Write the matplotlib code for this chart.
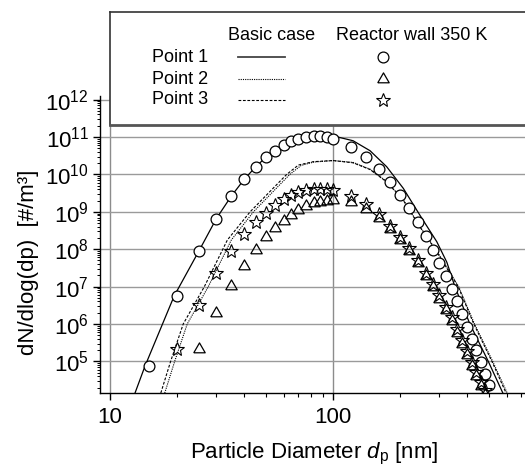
import numpy as np
import matplotlib
matplotlib.use("Agg")
import matplotlib.pyplot as plt
from matplotlib.ticker import LogLocator, NullFormatter, FixedLocator

plt.rcParams['font.family'] = ['Liberation Sans', 'DejaVu Sans']
plt.rcParams['mathtext.fontset'] = 'custom'
plt.rcParams['mathtext.rm'] = 'Liberation Sans'
plt.rcParams['mathtext.it'] = 'Liberation Sans:italic'
plt.rcParams['mathtext.default'] = 'regular'

# ---------------- data ----------------
# measured (Reactor wall 350 K)
dp_meas = [15, 20, 25, 30, 35, 40, 45, 50, 55, 60, 65, 70, 76, 82, 87, 94, 100,
           120, 140, 160, 180, 200, 220, 240, 260, 280, 300, 320, 340, 360, 380,
           400, 420, 440, 460, 480, 500]
p1_meas = [7.5e4, 5.6e6, 9.2e7, 6.5e8, 2.6e9, 7.4e9, 1.6e10, 2.9e10, 4.3e10, 6.1e10,
           7.7e10, 8.8e10, 1.02e11, 1.06e11, 1.06e11, 1.02e11, 9.0e10,
           5.5e10, 2.9e10, 1.37e10, 6.4e9, 2.8e9, 1.24e9, 5.4e8, 2.25e8, 9.5e7,
           4.4e7, 1.95e7, 8.6e6, 4.0e6, 1.85e6, 8.5e5, 4.0e5, 2.0e5, 9.6e4, 4.7e4, 2.4e4]

dp_meas3 = dp_meas[1:-1]
p3_meas = [2.1e5, 3.2e6, 2.27e7, 8.8e7, 2.5e8, 5.2e8, 9.5e8, 1.52e9, 2.16e9, 2.8e9,
           3.4e9, 3.8e9, 4.07e9, 4.07e9, 4.07e9, 3.8e9,
           2.6e9, 1.6e9, 8.6e8, 4.2e8, 2.1e8, 1.06e8, 5.1e7, 2.35e7, 1.17e7,
           6.0e6, 2.9e6, 1.5e6, 7.3e5, 3.7e5, 1.84e5, 9.6e4, 5.2e4, 2.8e4, 1.7e4]

dp_meas2 = dp_meas[2:-1]
p2_meas = [2.1e5, 1.97e6, 1.02e7, 3.6e7, 9.5e7, 2.1e8, 3.6e8, 5.8e8, 8.1e8, 1.15e9,
           1.43e9, 1.69e9, 1.83e9, 1.94e9, 2.07e9,
           1.83e9, 1.17e9, 6.8e8, 3.5e8, 1.76e8, 9.0e7, 4.3e7, 1.9e7, 9.8e6,
           4.8e6, 2.37e6, 1.17e6, 5.7e5, 2.9e5, 1.44e5, 7.5e4, 4.1e4, 2.2e4, 1.3e4]

# basic case (lines)
dp_b1 = [12.95, 14.36, 19.4, 25.3, 30, 35, 40, 45, 50, 60, 70, 80, 90, 100,
         123, 146.5, 174, 206.6, 245, 292, 324, 352, 411, 497, 578]
logN_b1 = [4.155, 4.877, 6.749, 8.0, 8.82, 9.42, 9.87, 10.2, 10.46, 10.79, 10.95,
           11.03, 11.05, 11.03, 10.9, 10.634, 10.206, 9.628, 8.914, 8.2, 7.65,
           7.0, 6.0, 5.0, 4.15]

dp_b3 = [16.9, 18.7, 21.3, 26.5, 33.6, 42.5, 62, 70, 81.6, 100,
         123, 146.5, 174, 206.6, 245, 292, 364, 428, 516, 597]
logN_b3 = [4.155, 5.0, 6.0, 7.0, 8.246, 9.0, 10.0, 10.25, 10.34, 10.37,
           10.31, 10.13, 9.80, 9.31, 8.60, 7.93, 7.0, 6.0, 5.0, 4.155]

dp_b2 = [17.6, 19.5, 22.2, 27.6, 35.0, 44, 64, 72, 82, 100,
         123, 146.5, 174, 206.6, 245, 292, 366, 431, 520, 604]
logN_b2 = [4.155, 5.0, 6.0, 7.0, 8.246, 9.0, 10.0, 10.24, 10.33, 10.37,
           10.32, 10.14, 9.81, 9.32, 8.61, 7.95, 7.0, 6.0, 5.0, 4.155]

xlabel = "Particle Diameter $\\mathit{d}_{p}$ [nm]"
ylabel = "dN/dlog(dp)  [#/m\u00b3]"
legend_rows = ["Point 1", "Point 2", "Point 3"]
legend_cols = ["Basic case", "Reactor wall 350 K"]

# ---------------- figure ----------------
W, H = 525, 467
fig = plt.figure(figsize=(W / 100, H / 100), dpi=100)

def fx(px):
    return px / W

def fy(py):
    return 1 - py / H

ax = fig.add_axes([fx(100), fy(393), fx(525) - fx(100), fy(96) - fy(393)])
ax.set_xscale('log')
ax.set_yscale('log')
ax.set_xlim(9.02, 726)
ax.set_ylim(10 ** 4.155, 10 ** 12.096)

# grid
for v in [10, 100]:
    ax.axvline(v, color='#8c8c8c', lw=1.0, zorder=0)
for e in range(5, 13):
    ax.axhline(10.0 ** e, color='#9a9a9a', lw=1.0, zorder=0)

lw = 0.9
ax.plot(dp_b1, 10 ** np.array(logN_b1), color='black', lw=lw, ls='-', zorder=2)
ax.plot(dp_b2, 10 ** np.array(logN_b2), color='black', lw=0.8, ls=(0, (1, 1)), zorder=2)
ax.plot(dp_b3, 10 ** np.array(logN_b3), color='black', lw=0.8, ls=(0, (2.5, 1.5)), zorder=2)

tri = [(-1, -0.577), (1, -0.577), (0, 1.155), (-1, -0.577)]
ax.plot(dp_meas, p1_meas, ls='none', marker='o', ms=7.8, mfc='white', mec='black',
        mew=0.9, zorder=3)
ax.plot(dp_meas2, p2_meas, ls='none', marker=tri, ms=9.5, mfc='none', mec='black',
        mew=0.9, zorder=4)
ax.plot(dp_meas3, p3_meas, ls='none', marker='*', ms=10, mfc='none', mec='black',
        mew=0.8, zorder=5)

# ticks
ax.yaxis.set_major_locator(LogLocator(base=10, numticks=20))
ax.yaxis.set_minor_locator(LogLocator(base=10, subs=np.arange(2, 10), numticks=20))
ax.yaxis.set_minor_formatter(NullFormatter())
ax.xaxis.set_major_locator(FixedLocator([10, 100]))
ax.xaxis.set_minor_locator(FixedLocator([20, 30, 40, 50, 60, 70, 80, 90,
                                         200, 300, 400, 500, 600, 700]))
ax.xaxis.set_minor_formatter(NullFormatter())
ax.xaxis.set_major_formatter(matplotlib.ticker.FuncFormatter(lambda v, p: f"{int(round(v))}"))
ax.tick_params(axis='both', which='major', labelsize=16, length=5, width=1,
               direction='out', pad=3, color='black')
ax.tick_params(axis='y', which='minor', length=2.5, width=0.7, direction='out')
ax.tick_params(axis='x', which='minor', length=3, width=0.8, direction='out')
ax.tick_params(axis='x', which='major', pad=5)
for s in ['top', 'right']:
    ax.spines[s].set_visible(False)
for s in ['left', 'bottom']:
    ax.spines[s].set_linewidth(1.0)
    ax.spines[s].set_color('black')

fig.text(fx(314), fy(458), xlabel, fontsize=16, ha='center', va='baseline')
fig.text(fx(29), fy(262), ylabel, fontsize=16, ha='center', va='center', rotation=90)

# legend box
lax = fig.add_axes([fx(110), fy(125), fx(540) - fx(110), fy(12) - fy(125)], zorder=10)
lax.set_xlim(110, 540)
lax.set_ylim(125, 12)
lax.set_xticks([])
lax.set_yticks([])
lax.set_facecolor('white')
for s in ['top', 'left', 'right']:
    lax.spines[s].set_color('#333333')
    lax.spines[s].set_linewidth(1.2)
lax.spines['bottom'].set_color('#555555')
lax.spines['bottom'].set_linewidth(2.0)

fs = 13
lax.text(272, 35, legend_cols[0], fontsize=fs, ha='center', va='center')
lax.text(412, 35, legend_cols[1], fontsize=fs, ha='center', va='center')
row_y = [57, 79, 100]
styles = [dict(ls='-', lw=1.3, color='#444444'), dict(ls=(0, (1, 1)), lw=0.8, color='black'),
          dict(ls=(0, (2.5, 1.5)), lw=0.8, color='black')]
marks = [dict(marker='o', ms=7.8, mfc='white', mew=0.9),
         dict(marker=tri, ms=9.5, mfc='none', mew=0.9),
         dict(marker='*', ms=10, mfc='none', mew=0.8)]
for name, yy, st, mk in zip(legend_rows, row_y, styles, marks):
    lax.text(152, yy, name, fontsize=fs, ha='left', va='center')
    lax.plot([238, 285], [yy, yy], **st)
    lax.plot([383], [yy], ls='none', mec='black', **mk)

fig.savefig("out.png", dpi=100)
